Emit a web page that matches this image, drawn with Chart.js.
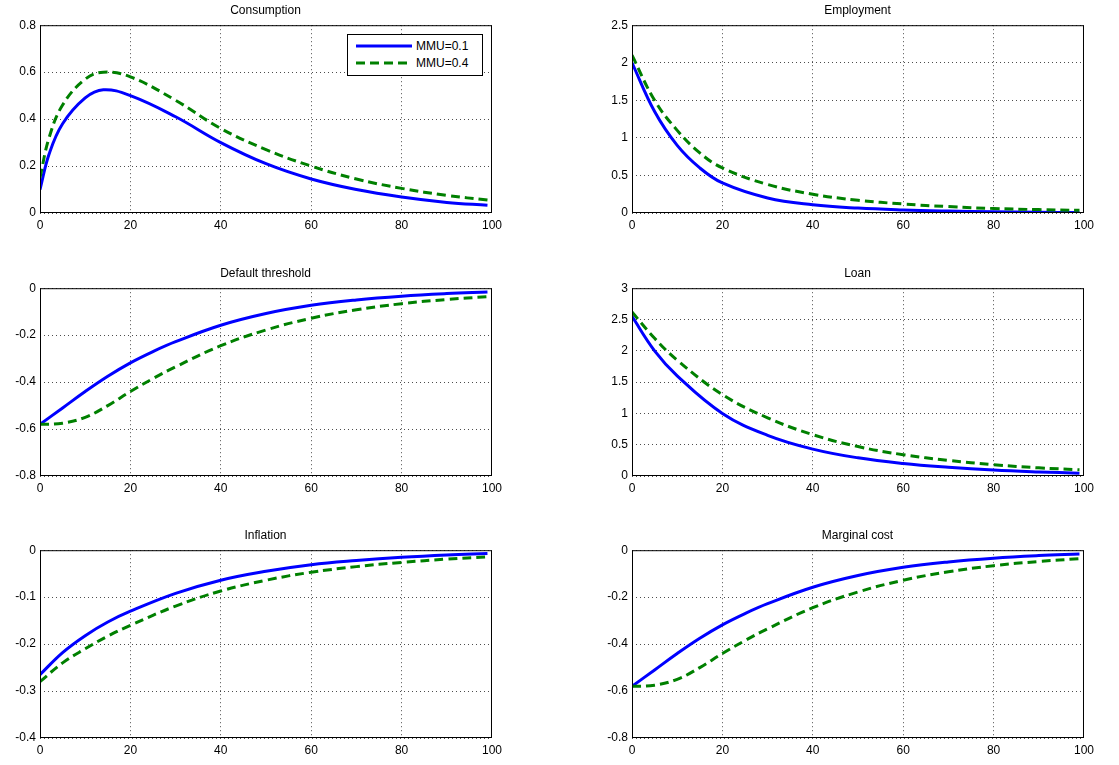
<!DOCTYPE html><html><head><meta charset="utf-8">
<script src="https://cdn.jsdelivr.net/npm/chart.js@4"></script>
<style>
body{margin:0;background:#fff;width:1119px;height:765px;position:relative;font-family:"Liberation Sans",Arial,sans-serif;overflow:hidden}
.w{position:absolute}
.t{position:absolute;font-size:12px;text-align:center;width:451px}
#leg{position:absolute;left:347px;top:34px;width:134px;height:40px;border:1px solid #000;background:#fff;font-size:12px;z-index:5}
#leg div{position:absolute;left:6px;display:flex;align-items:center}
</style></head><body>
<div id="leg">
<div style="top:4px"><svg width="62" height="12"><line x1="2" y1="6" x2="58" y2="6" stroke="#0000ff" stroke-width="3"/></svg>MMU=0.1</div>
<div style="top:21px"><svg width="62" height="12"><line x1="2" y1="6" x2="58" y2="6" stroke="#008000" stroke-width="3" stroke-dasharray="9,5"/></svg>MMU=0.4</div>
</div>
<script>
const titles=["Consumption","Employment","Default threshold","Loan","Inflation","Marginal cost"];
const consX=[0,2,5,10,14,20,30,40,50,60,70,80,90,99];
const consA=[0.10,0.25,0.38,0.49,0.525,0.50,0.41,0.30,0.21,0.145,0.10,0.068,0.045,0.033];
const consB=[0.15,0.32,0.46,0.57,0.60,0.58,0.48,0.36,0.27,0.20,0.145,0.105,0.075,0.055];
const empX=[0,5,10,15,20,30,40,50,60,70,80,90,99];
const empA=[2.0,1.35,0.9,0.6,0.4,0.2,0.11,0.065,0.04,0.025,0.015,0.01,0.005];
const empB=[2.1,1.5,1.1,0.8,0.6,0.38,0.25,0.17,0.12,0.085,0.06,0.045,0.035];
const defX=[0,5,10,15,20,25,30,40,50,60,70,80,90,99];
const defA=[-0.58,-0.51,-0.44,-0.375,-0.318,-0.27,-0.228,-0.158,-0.108,-0.073,-0.05,-0.034,-0.023,-0.016];
const defB=[-0.58,-0.575,-0.55,-0.5,-0.44,-0.385,-0.335,-0.245,-0.178,-0.128,-0.092,-0.066,-0.048,-0.036];
const loanX=[0,5,10,20,30,40,50,60,70,80,90,99];
const loanA=[2.55,2.0,1.6,1.0,0.65,0.43,0.29,0.2,0.14,0.095,0.065,0.045];
const loanB=[2.62,2.2,1.85,1.3,0.93,0.66,0.47,0.34,0.25,0.18,0.13,0.1];
const infX=[0,5,10,15,20,30,40,50,60,70,80,90,99];
const infA=[-0.265,-0.218,-0.182,-0.153,-0.13,-0.092,-0.064,-0.045,-0.031,-0.022,-0.015,-0.01,-0.007];
const infB=[-0.28,-0.24,-0.21,-0.183,-0.16,-0.119,-0.087,-0.064,-0.047,-0.035,-0.026,-0.019,-0.014];
const mcX=[0,5,10,15,20,25,30,40,50,60,70,80,90,99];
const mcA=[-0.58,-0.51,-0.44,-0.375,-0.318,-0.27,-0.228,-0.158,-0.108,-0.073,-0.05,-0.034,-0.023,-0.016];
const mcB=[-0.58,-0.575,-0.55,-0.5,-0.44,-0.385,-0.335,-0.245,-0.178,-0.128,-0.092,-0.066,-0.048,-0.036];
const yr=[[0,0.8,0.2],[0,2.5,0.5],[-0.8,0,0.2],[0,3,0.5],[-0.4,0,0.1],[-0.8,0,0.2]];
const sets=[[consX,consA,consB],[empX,empA,empB],[defX,defA,defB],[loanX,loanA,loanB],[infX,infA,infB],[mcX,mcA,mcB]];
const tops=[25,288,550],H=188,lefts=[40,632],W=451,YW=40,XH=26,OFF=11;
const box={id:'box',afterDraw(c){const a=c.chartArea,x=c.ctx;x.save();x.strokeStyle='#000';x.lineWidth=1;x.strokeRect(a.left+0.5,a.top+0.5,a.width-1,a.height-1);x.restore();}};
const fam='"Liberation Sans",Arial,sans-serif';
const fmt=v=>String(+(+v).toFixed(2));
sets.forEach((s,i)=>{
 const r=Math.floor(i/2),c=i%2;
 const d=document.createElement('div');d.className='w';
 d.style.left=(lefts[c]-YW)+'px';d.style.top=(tops[r]-OFF)+'px';d.style.width=(W+YW+16)+'px';d.style.height=(H+XH+OFF)+'px';
 const cv=document.createElement('canvas');d.appendChild(cv);document.body.appendChild(d);
 const t=document.createElement('div');t.className='t';t.textContent=titles[i];t.style.left=lefts[c]+'px';t.style.top=(tops[r]-22)+'px';document.body.appendChild(t);
 const mk=(ys)=>s[0].map((x,k)=>({x,y:ys[k]}));
 new Chart(cv,{type:'line',plugins:[box],data:{datasets:[
  {data:mk(s[2]),borderColor:'#008000',borderWidth:3,borderDash:[9,5],pointRadius:0,tension:0.4},
  {data:mk(s[1]),borderColor:'#0000ff',borderWidth:3,pointRadius:0,tension:0.4}]},
 options:{responsive:true,maintainAspectRatio:false,animation:false,layout:{padding:{top:0,right:12,left:0,bottom:0}},
  plugins:{legend:{display:false},tooltip:{enabled:false}},
  scales:{x:{type:'linear',min:0,max:100,ticks:{stepSize:20,color:'#000',font:{size:12,family:fam},maxRotation:0,padding:5},
    grid:{color:'#000',lineWidth:0.7,drawTicks:false},border:{display:false,dash:[1,3]},afterFit(a){a.height=XH;}},
   y:{min:yr[i][0],max:yr[i][1],ticks:{stepSize:yr[i][2],color:'#000',font:{size:12,family:fam},padding:4,callback:fmt},
    grid:{color:'#000',lineWidth:0.7,drawTicks:false},border:{display:false,dash:[1,3]},afterFit(a){a.width=YW;}}}}});
});
</script></body></html>
